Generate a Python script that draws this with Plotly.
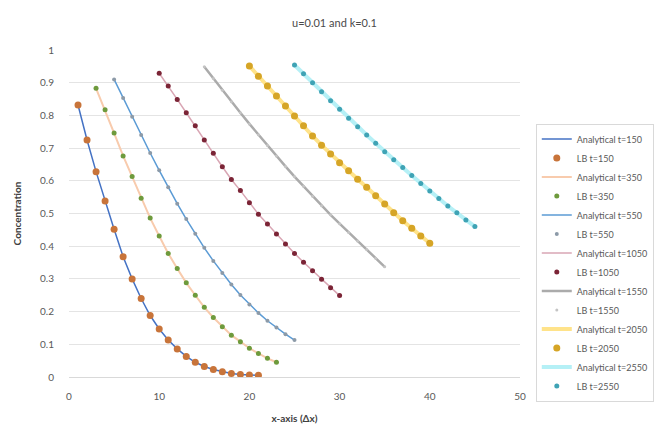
import plotly.graph_objects as go

# Concentration profiles along the domain at several time steps
x_t150 = list(range(1, 22))
c_t150 = [0.832, 0.725, 0.628, 0.538, 0.452, 0.368, 0.300, 0.240, 0.188, 0.147, 0.113,
          0.086, 0.063, 0.045, 0.032, 0.023, 0.016, 0.011, 0.008, 0.006, 0.005]

x_t350 = list(range(3, 24))
c_t350 = [0.883, 0.817, 0.746, 0.676, 0.613, 0.547, 0.486, 0.431, 0.378, 0.332, 0.288,
          0.250, 0.213, 0.182, 0.154, 0.128, 0.108, 0.088, 0.072, 0.057, 0.045]

x_t550 = list(range(5, 26))
c_t550 = [0.910, 0.853, 0.796, 0.740, 0.685, 0.632, 0.580, 0.530, 0.483, 0.438, 0.395,
          0.355, 0.318, 0.283, 0.251, 0.222, 0.196, 0.172, 0.151, 0.131, 0.113]

x_t1050 = list(range(10, 31))
c_t1050 = [0.929, 0.890, 0.849, 0.808, 0.768, 0.725, 0.684, 0.643, 0.604, 0.570, 0.533,
           0.498, 0.468, 0.437, 0.407, 0.378, 0.351, 0.325, 0.299, 0.273, 0.249]

x_t1550 = list(range(15, 36))
c_t1550 = [0.949, 0.913, 0.877, 0.842, 0.808, 0.774, 0.741, 0.708, 0.676, 0.644, 0.613,
           0.583, 0.553, 0.524, 0.496, 0.469, 0.442, 0.416, 0.390, 0.363, 0.337]

x_t2050 = list(range(20, 41))
c_t2050 = [0.951, 0.920, 0.890, 0.859, 0.829, 0.798, 0.768, 0.737, 0.709, 0.682, 0.655,
           0.631, 0.605, 0.580, 0.554, 0.529, 0.502, 0.478, 0.455, 0.431, 0.409]

x_t2550 = list(range(25, 46))
c_t2550 = [0.954, 0.927, 0.900, 0.872, 0.845, 0.819, 0.791, 0.765, 0.740, 0.715, 0.689,
           0.664, 0.641, 0.616, 0.592, 0.569, 0.546, 0.523, 0.502, 0.480, 0.460]

x_ticks = [0, 10, 20, 30, 40, 50]
y_ticks = [0, 0.1, 0.2, 0.3, 0.4, 0.5, 0.6, 0.7, 0.8, 0.9, 1]

# (label, x, c, analytical line colour, line width, LB marker colour, marker size)
series = [
    ("150", x_t150, c_t150, "#4472C4", 1.5, "#C8743A", 7),
    ("350", x_t350, c_t350, "#F8CBAD", 2.0, "#6E9A3C", 5),
    ("550", x_t550, c_t550, "#5B9BD5", 1.5, "#8C9AA8", 4),
    ("1050", x_t1050, c_t1050, "#D9A6B4", 1.5, "#7B2436", 5),
    ("1550", x_t1550, c_t1550, "#ABABAB", 2.5, "#C4C4C4", 3),
    ("2050", x_t2050, c_t2050, "#FFE38A", 4.0, "#D6A526", 7),
    ("2550", x_t2550, c_t2550, "#B5F0F6", 4.0, "#3FA3B5", 5),
]

fig = go.Figure()
for label, xs, cs, lcol, lw, mcol, ms in series:
    fig.add_trace(go.Scatter(
        x=xs, y=cs, mode="lines", name=f"Analytical t={label}",
        line=dict(color=lcol, width=lw),
    ))
    fig.add_trace(go.Scatter(
        x=xs, y=cs, mode="markers", name=f"LB t={label}",
        marker=dict(color=mcol, size=ms, line=dict(width=0)),
    ))

font_family = "Lato, 'Open Sans', sans-serif"

fig.update_layout(
    width=669, height=437,
    paper_bgcolor="white", plot_bgcolor="white",
    margin=dict(l=69, r=149, t=50, b=60, autoexpand=False),
    font=dict(family=font_family, size=10, color="#595959"),
    title=dict(text="u=0.01 and k=0.1", x=0.5, xanchor="center",
               y=1 - 23 / 437, yanchor="middle",
               font=dict(size=11, color="#4a4a4a")),
    xaxis=dict(
        range=[0, 50], tickvals=x_ticks, showgrid=False, zeroline=False,
        showline=True, linecolor="#D9D9D9", linewidth=1, ticks="",
        ticklabelstandoff=10,
        tickfont=dict(size=10, color="#595959"),
        title=dict(text="<b>x-axis (Δx)</b>", standoff=13,
                   font=dict(size=10, color="#404040")),
    ),
    yaxis=dict(
        range=[0, 1], tickvals=y_ticks, showgrid=True, gridcolor="#E4E4E4",
        gridwidth=1, zeroline=False, showline=False, ticks="",
        ticklabelstandoff=14,
        tickfont=dict(size=10, color="#595959"),
        title=dict(text="<b>Concentration</b>", standoff=16,
                   font=dict(size=10, color="#404040")),
    ),
    legend=dict(
        x=1.035, xanchor="left", y=0.775, yanchor="top",
        bgcolor="white", bordercolor="#D9D9D9", borderwidth=1,
        font=dict(size=9, color="#595959"),
        itemwidth=30, tracegroupgap=0,
    ),
)

fig.write_html("out.html")
